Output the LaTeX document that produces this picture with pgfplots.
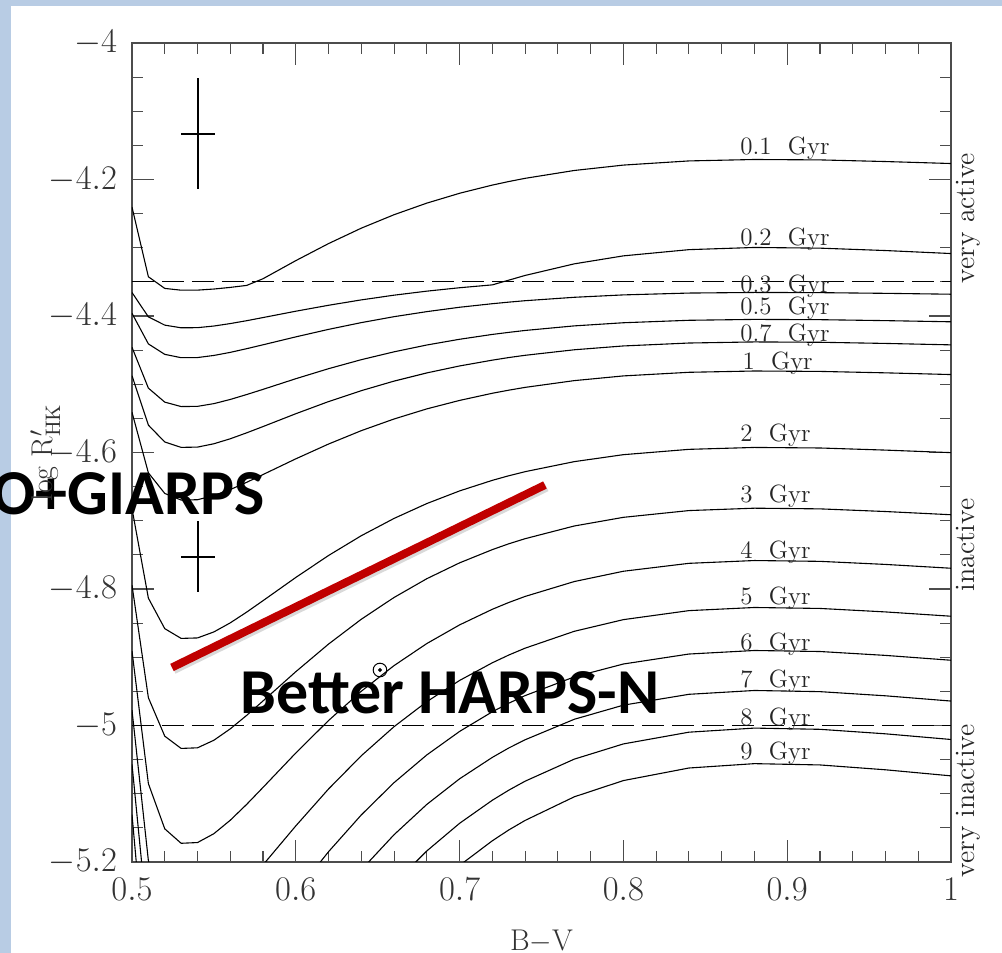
\documentclass[border=0pt]{standalone}
\usepackage{fontspec}
\usepackage{pgfplots}
\usepackage{pgfplotstable}
\pgfplotsset{compat=1.18}
\newfontfamily\calibri{Carlito}
\definecolor{framebg}{HTML}{B8CCE4}
\definecolor{redline}{HTML}{C00000}

% log R'HK activity isochrones (columns = ages in Gyr)
\pgfplotstableread{
bv   a01     a02     a03     a05     a07     a1      a2      a3      a4      a5      a6      a7      a8      a9
0.50 -4.2404 -4.3656 -4.3961 -4.4459 -4.4875 -4.5411 -4.6822 -4.7943 -4.8909 -4.9775 -5.0569 -5.1306 -5.2000 -5.2656
0.51 -4.3425 -4.4013 -4.4409 -4.5057 -4.5599 -4.6298 -4.8134 -4.9593 -5.0851 -5.1979 -5.3012 -5.3973 -5.4876 -5.5730
0.52 -4.3596 -4.4134 -4.4562 -4.5262 -4.5846 -4.6600 -4.8581 -5.0156 -5.1514 -5.2731 -5.3846 -5.4882 -5.5857 -5.6779
0.53 -4.3622 -4.4173 -4.4611 -4.5327 -4.5925 -4.6697 -4.8724 -5.0336 -5.1726 -5.2971 -5.4112 -5.5173 -5.6171 -5.7114
0.54 -4.3621 -4.4171 -4.4609 -4.5324 -4.5921 -4.6692 -4.8717 -5.0327 -5.1715 -5.2959 -5.4099 -5.5159 -5.6155 -5.7097
0.55 -4.3605 -4.4147 -4.4578 -4.5284 -4.5872 -4.6632 -4.8629 -5.0216 -5.1585 -5.2811 -5.3935 -5.4980 -5.5962 -5.6891
0.56 -4.3581 -4.4111 -4.4533 -4.5223 -4.5799 -4.6543 -4.8496 -5.0049 -5.1388 -5.2588 -5.3688 -5.4710 -5.5671 -5.6580
0.57 -4.3552 -4.4069 -4.4479 -4.5151 -4.5712 -4.6437 -4.8339 -4.9852 -5.1156 -5.2325 -5.3396 -5.4391 -5.5327 -5.6212
0.58 -4.3454 -4.4023 -4.4422 -4.5075 -4.5620 -4.6323 -4.8171 -4.9640 -5.0907 -5.2042 -5.3083 -5.4050 -5.4959 -5.5819
0.60 -4.3189 -4.3930 -4.4306 -4.4919 -4.5432 -4.6093 -4.7831 -4.9212 -5.0403 -5.1471 -5.2449 -5.3358 -5.4213 -5.5021
0.62 -4.2939 -4.3843 -4.4196 -4.4772 -4.5254 -4.5876 -4.7509 -4.8807 -4.9927 -5.0930 -5.1849 -5.2704 -5.3507 -5.4267
0.64 -4.2713 -4.3764 -4.4097 -4.4640 -4.5094 -4.5680 -4.7219 -4.8443 -4.9498 -5.0443 -5.1310 -5.2115 -5.2872 -5.3589
0.66 -4.2516 -4.3695 -4.4010 -4.4525 -4.4954 -4.5509 -4.6966 -4.8124 -4.9122 -5.0017 -5.0837 -5.1600 -5.2316 -5.2994
0.68 -4.2346 -4.3636 -4.3936 -4.4425 -4.4834 -4.5361 -4.6748 -4.7849 -4.8799 -4.9651 -5.0431 -5.1156 -5.1838 -5.2483
0.70 -4.2202 -4.3586 -4.3872 -4.4341 -4.4732 -4.5237 -4.6563 -4.7617 -4.8526 -4.9340 -5.0087 -5.0781 -5.1433 -5.2050
0.72 -4.2082 -4.3544 -4.3820 -4.4270 -4.4647 -4.5132 -4.6408 -4.7423 -4.8297 -4.9081 -4.9799 -5.0467 -5.1095 -5.1689
0.73 -4.2030 -4.3475 -4.3797 -4.4240 -4.4609 -4.5087 -4.6341 -4.7338 -4.8198 -4.8968 -4.9674 -5.0330 -5.0948 -5.1531
0.74 -4.1983 -4.3406 -4.3776 -4.4212 -4.4576 -4.5046 -4.6281 -4.7263 -4.8109 -4.8867 -4.9562 -5.0209 -5.0816 -5.1391
0.77 -4.1868 -4.3236 -4.3726 -4.4145 -4.4495 -4.4947 -4.6134 -4.7077 -4.7891 -4.8620 -4.9288 -4.9909 -5.0493 -5.1045
0.80 -4.1789 -4.3119 -4.3691 -4.4099 -4.4439 -4.4878 -4.6032 -4.6950 -4.7740 -4.8449 -4.9099 -4.9702 -5.0270 -5.0807
0.84 -4.1728 -4.3028 -4.3664 -4.4063 -4.4396 -4.4825 -4.5954 -4.6851 -4.7624 -4.8317 -4.8953 -4.9543 -5.0098 -5.0623
0.88 -4.1707 -4.2996 -4.3655 -4.4050 -4.4380 -4.4806 -4.5926 -4.6816 -4.7583 -4.8271 -4.8901 -4.9487 -5.0038 -5.0559
0.92 -4.1713 -4.3006 -4.3658 -4.4054 -4.4385 -4.4812 -4.5934 -4.6826 -4.7595 -4.8285 -4.8916 -4.9504 -5.0056 -5.0578
0.96 -4.1737 -4.3041 -4.3668 -4.4068 -4.4402 -4.4833 -4.5965 -4.6865 -4.7640 -4.8336 -4.8973 -4.9565 -5.0122 -5.0649
1.00 -4.1766 -4.3085 -4.3681 -4.4085 -4.4423 -4.4858 -4.6002 -4.6912 -4.7696 -4.8399 -4.9044 -4.9642 -5.0205 -5.0738
}\iso

\begin{document}
\begin{tikzpicture}
\useasboundingbox (-66pt,-45.5pt) rectangle (435pt,431pt);
\fill[framebg] (-66pt,-45.5pt) rectangle (435pt,431pt);
\fill[white] (-60.5pt,-45.5pt) rectangle (435pt,428pt);
\begin{axis}[
  at={(0,0)}, anchor=south west,
  scale only axis, width=409.5pt, height=409.5pt,
  xmin=0.5, xmax=1, ymin=-5.2, ymax=-4,
  xtick={0.5,0.6,0.7,0.8,0.9,1},
  ytick={-5.2,-5,-4.8,-4.6,-4.4,-4.2,-4},
  minor x tick num=4, minor y tick num=3,
  major tick length=11pt, minor tick length=5.5pt,
  tick align=inside,
  axis line style={black!70, line width=0.55pt},
  tick style={black!70, line width=0.55pt},
  tick label style={font=\fontsize{16.5}{19}\selectfont, text=black!80},
  xticklabel style={yshift=-4.5pt},
  yticklabel style={xshift=-4pt},
  xlabel={B$-$V},
  ylabel={log R$'_{\mathrm{HK}}$},
  label style={font=\fontsize{15}{18}\selectfont, text=black!80},
  xlabel style={at={(axis description cs:0.5,-0.1075)}, anchor=base},
  ylabel style={at={(axis description cs:-0.0965,0.5)}, anchor=base},
  clip mode=individual,
  every axis plot/.append style={line width=0.55pt},
]
% activity thresholds
\addplot[black, dash pattern=on 11pt off 4pt] coordinates {(0.5,-4.35) (1,-4.35)};
\addplot[black, dash pattern=on 11pt off 4pt] coordinates {(0.5,-5.0) (1,-5.0)};
% isochrones
\addplot[black] table[x=bv, y=a01] {\iso};
\addplot[black] table[x=bv, y=a02] {\iso};
\addplot[black] table[x=bv, y=a03] {\iso};
\addplot[black] table[x=bv, y=a05] {\iso};
\addplot[black] table[x=bv, y=a07] {\iso};
\addplot[black] table[x=bv, y=a1] {\iso};
\addplot[black] table[x=bv, y=a2] {\iso};
\addplot[black] table[x=bv, y=a3] {\iso};
\addplot[black] table[x=bv, y=a4] {\iso};
\addplot[black] table[x=bv, y=a5] {\iso};
\addplot[black] table[x=bv, y=a6] {\iso};
\addplot[black] table[x=bv, y=a7] {\iso};
\addplot[black] table[x=bv, y=a8] {\iso};
\addplot[black] table[x=bv, y=a9] {\iso};
% typical error crosses
\addplot[draw=none, mark=none, error bars/.cd, x dir=both, x explicit, y dir=both, y explicit,
  error mark=none, error bar style={draw=black, line width=0.55pt}]
  coordinates {(0.5403,-4.1333) +- (0.0104,0.0813) (0.5403,-4.7531) +- (0.0104,0.0520)};
% Sun
\addplot[only marks, mark=o, mark size=3.4pt, mark options={black, line width=0.5pt}] coordinates {(0.6514,-4.9187)};
\addplot[only marks, mark=*, mark size=0.7pt, black] coordinates {(0.6514,-4.9187)};
% red annotation line (with a faint shadow)
\addplot[black, opacity=0.15, line width=4.4pt] coordinates {(0.5254,-4.9182) (0.7531,-4.6508)};
\addplot[redline, line width=4pt] coordinates {(0.5244,-4.915) (0.7521,-4.6476)};
% age labels
\begin{scope}[every node/.style={anchor=base west, inner sep=0pt, font=\fontsize{12.5}{15}\selectfont, text=black!85}]
\node at (axis cs:0.8712,-4.1641) {0.1\ \ Gyr};
\node at (axis cs:0.8712,-4.2960) {0.2\ \ Gyr};
\node at (axis cs:0.8712,-4.3663) {0.3\ \ Gyr};
\node at (axis cs:0.8712,-4.3985) {0.5\ \ Gyr};
\node at (axis cs:0.8712,-4.4381) {0.7\ \ Gyr};
\node at (axis cs:0.8725,-4.4791) {1\ \ Gyr};
\node at (axis cs:0.8712,-4.5846) {2\ \ Gyr};
\node at (axis cs:0.8712,-4.6740) {3\ \ Gyr};
\node at (axis cs:0.8712,-4.7546) {4\ \ Gyr};
\node at (axis cs:0.8712,-4.8234) {5\ \ Gyr};
\node at (axis cs:0.8712,-4.8894) {6\ \ Gyr};
\node at (axis cs:0.8712,-4.9436) {7\ \ Gyr};
\node at (axis cs:0.8712,-4.9993) {8\ \ Gyr};
\node at (axis cs:0.8712,-5.0505) {9\ \ Gyr};
\end{scope}
% activity region labels
\begin{scope}[every node/.style={rotate=90, anchor=base, inner sep=0pt, font=\fontsize{14}{16}\selectfont, text=black!85}]
\node at (axis description cs:1.0293,0.7863) {very active};
\node at (axis description cs:1.0293,0.3871) {inactive};
\node at (axis description cs:1.0293,0.0745) {very inactive};
\end{scope}
% slide annotations
\node[anchor=base west, inner sep=0pt, font=\fontsize{32}{37}\calibri\bfseries] at (axis cs:0.5659,-4.9817) {Better HARPS-N};
\node[anchor=base east, inner sep=0pt, font=\fontsize{32}{37}\calibri\bfseries] at (axis cs:0.5812,-4.6905) {O+GIARPS};
\end{axis}
\end{tikzpicture}
\end{document}
